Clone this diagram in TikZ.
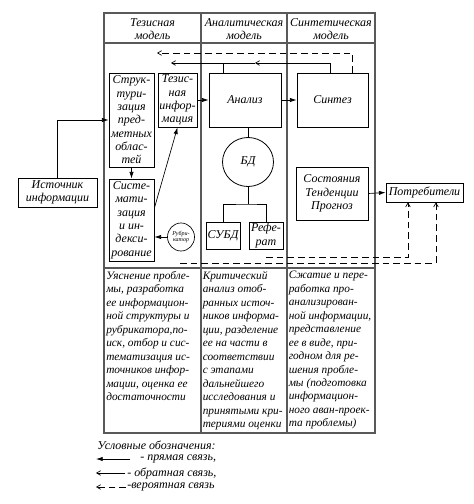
\documentclass[tikz,border=0pt]{standalone}
\usepackage{fontspec}
\setmainfont{Liberation Serif}
\usetikzlibrary{arrows.meta,shapes.geometric}
\begin{document}
\begin{tikzpicture}[x=0.75pt,y=-0.75pt,
  txt/.style={font=\itshape\fontsize{9}{10}\selectfont},
  box/.style={draw,line width=0.6pt,inner sep=0pt,align=center,txt},
  frame/.style={draw=black!65,line width=0.8pt},
  cell/.style={font=\itshape\fontsize{8.5}{10.1}\selectfont,align=left,inner sep=0pt,anchor=north west},
  conn/.style={line width=0.5pt},
  direct/.style={conn,-{Latex[length=5pt,width=3.2pt]}},
  feedback/.style={conn,-{Straight Barb[length=3pt,width=3.5pt]}},
  prob/.style={conn,dash pattern=on 5pt off 3pt,-{Straight Barb[length=3pt,width=3.5pt]}}]
\useasboundingbox (0,0) rectangle (474,504);
% table frame
\draw[frame] (104,13) rectangle (375,433);
\draw[frame] (104,43) -- (375,43);
\draw[frame] (104,268) -- (375,268);
\draw[frame] (201,13) -- (201,433);
\draw[frame] (287,13) -- (287,433);
% headers
\node[txt,align=center] (h1) at (152.5,29) {Тезисная\\модель};
\node[txt,align=center] (h2) at (244,29) {Аналитическая\\модель};
\node[txt,align=center] (h3) at (331,29) {Синтетическая\\модель};
% boxes
\node[box,minimum width=33.75pt,minimum height=70.5pt] (strukt) at (131.5,120) {Струк-\\тури-\\зация\\пред-\\метных\\облас-\\тей};
\node[box,minimum width=29.25pt,minimum height=40.5pt] (tezinf) at (177.5,100) {Тезис-\\ная\\инфор-\\мация};
\node[box,minimum width=33.75pt,minimum height=61.5pt] (sist) at (131.5,220) {Систе-\\мати-\\зация\\и ин-\\декси-\\рование};
\node[draw,ellipse,line width=0.5pt,inner sep=0pt,minimum width=20.25pt,minimum height=21pt,align=center,font=\itshape\fontsize{4.5}{5}\selectfont] (rubr) at (181,237) {Рубри-\\катор};
\node[box,minimum width=59.25pt,minimum height=21.75pt] (istoch) at (57.5,192.5) {Источник\\информации};
\node[box,minimum width=54pt,minimum height=40.5pt] (analiz) at (245,100) {Анализ};
\node[box,minimum width=53.25pt,minimum height=40.5pt] (sintez) at (332.5,100) {Синтез};
\node[box,ellipse,minimum width=38.25pt,minimum height=36.75pt] (bd) at (248,162) {БД};
\node[box,minimum width=25.5pt,minimum height=20.25pt] (subd) at (223,235.5) {СУБД};
\node[box,minimum width=25.5pt,minimum height=20.25pt] (referat) at (266,235.5) {Рефе-\\рат};
\node[box,minimum width=54pt,minimum height=39.75pt] (sost) at (332,193.5) {Состояния\\Тенденции\\Прогноз};
\node[box,minimum width=57.75pt,minimum height=14.25pt] (potr) at (424.5,192.5) {Потребители};
% direct connections
\draw[direct] (istoch.north) |- (strukt.west);
\draw[direct] (strukt.south) -- (sist.north);
\draw[direct] ([yshift=9pt]sist.east) -- (tezinf.south);
\draw[direct] (rubr.west) -- (sist.east |- rubr.west);
\draw[direct] (tezinf.east) -- (analiz.west);
\draw[direct] (analiz.east) -- (sintez.west);
\draw[direct] (sost.east) -- (potr.west);
% database tree
\coordinate (tj) at (248,204);
\draw[conn] (analiz.south -| bd.north) -- (bd.north);
\draw[conn] (bd.south) -- (tj);
\draw[conn] (subd.north) |- (tj) -| (referat.north);
% feedback
\coordinate (fbmid) at (255,63);
\coordinate (fbend) at (171,63);
\draw[feedback] ([xshift=-1.9pt]sintez.north) |- (fbmid);
\draw[conn] (fbmid) -- (223,63);
\draw[feedback] ([xshift=-16.5pt]analiz.north) |- (fbend);
\coordinate (prend) at (157,53);
\draw[prob] ([xshift=14.6pt]sintez.north) |- (prend);
\coordinate (d1) at (266,257);
\coordinate (d2) at (180,263);
\draw[prob] (d1) -| ([xshift=-12.4pt]potr.south);
\draw[prob] (d2) -| ([xshift=8.6pt]potr.south);
% lower text
\node[cell] (c1) at (106,271) {Уяснение пробле-\\мы, разработка\\ее информацион-\\ной структуры и\\рубрикатора,по-\\иск, отбор и сис-\\тематизация ис-\\точников инфор-\\мации, оценка ее\\достаточности};
\node[cell] (c2) at (202.5,271) {Критический\\анализ отоб-\\ранных источ-\\ников информа-\\ции, разделение\\ее на части в\\соответствии\\с этапами\\дальнейшего\\исследования и\\принятыми кри-\\териями оценки};
\node[cell] (c3) at (288.5,271) {Сжатие и пере-\\работка про-\\анализирован-\\ной информации,\\представление\\ее в виде, при-\\годном для ре-\\шения пробле-\\мы (подготовка\\информацион-\\ного аван-проек-\\та проблемы)};
% legend
\node[txt,anchor=west,inner sep=0pt] (leg0) at (97,445) {Условные обозначения:};
\coordinate (la1) at (96,459); \coordinate (lb1) at (130,459);
\draw[direct] (lb1) -- (la1);
\node[txt,anchor=west,inner sep=0pt] (leg1) at (140,459) {- прямая связь,};
\coordinate (la2) at (96,473); \coordinate (lb2) at (125,473);
\draw[feedback] (lb2) -- (la2);
\node[txt,anchor=west,inner sep=0pt] (leg2) at (127,473) {- обратная связь,};
\coordinate (la3) at (96,487); \coordinate (lb3) at (126,487);
\draw[prob] (lb3) -- (la3);
\node[txt,anchor=west,inner sep=0pt] (leg3) at (127,487) {-вероятная связь};
\end{tikzpicture}
\end{document}
